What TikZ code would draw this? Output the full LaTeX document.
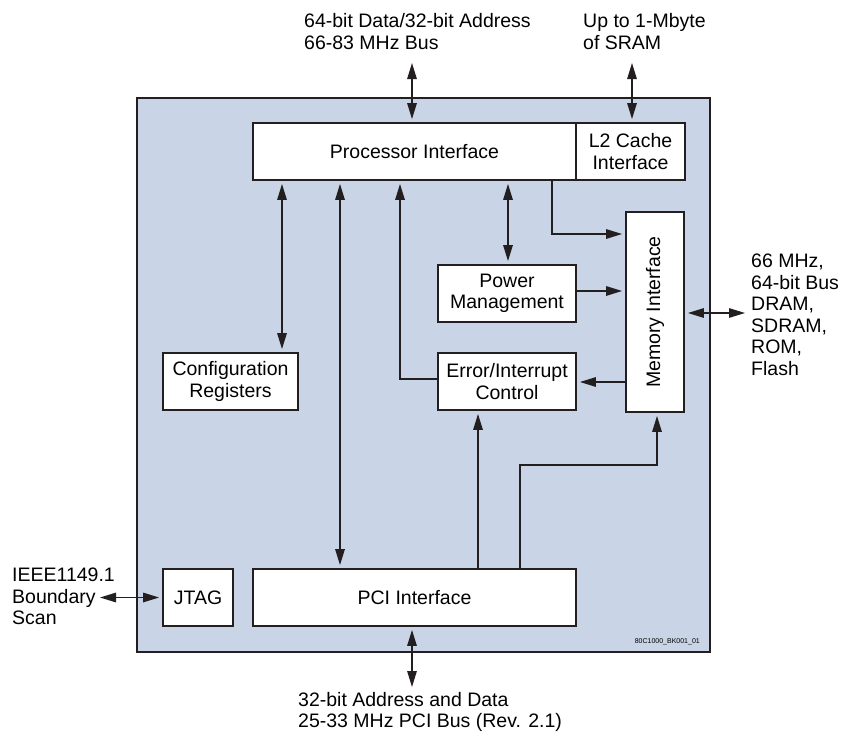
\documentclass[tikz,border=0pt]{standalone}
\usepackage{fontspec}
\setmainfont{Liberation Sans}
\usetikzlibrary{arrows.meta}
\definecolor{chipblue}{RGB}{201,213,230}
\definecolor{ink}{RGB}{35,31,32}
\begin{document}
\begin{tikzpicture}[x=1pt, y=-1pt, font=\fontsize{19.5}{21.5}\selectfont, line join=miter, >={Triangle[length=16pt,width=9.5pt]},
		blk/.style={draw=ink, line width=1.8pt, fill=white, align=center, inner sep=0pt, minimum height=57pt},
		bus/.style={draw=ink, line width=1.4pt},
		lbl/.style={align=left, inner sep=0pt, anchor=west}]
		\useasboundingbox (0,0) rectangle (857,736);
		\node[draw=ink, line width=1.8pt, fill=chipblue, inner sep=0pt, minimum width=573pt, minimum height=554pt] (chip) at (423.5,375) {};
		% blocks
		\node[blk, minimum width=323pt] (proc) at (414.5,151.5) {Processor Interface};
		\node[blk, minimum width=109pt] (cache) at (630.5,151.5) {L2 Cache\\Interface};
		\node[blk, minimum width=58pt, minimum height=200pt, label={[rotate=90]center:Memory Interface}] (mem) at (655,312) {};
		\node[blk, minimum width=138pt] (power) at (507,293.5) {Power\\Management};
		\node[blk, minimum width=138pt] (err) at (507,381.5) {Error/Interrupt\\Control};
		\node[blk, minimum width=135pt] (config) at (230.5,381.5) {Configuration\\Registers};
		\node[blk, minimum width=70pt] (jtag) at (198,597.5) {JTAG};
		\node[blk, minimum width=323pt] (pci) at (414.5,597.5) {PCI Interface};
		% outside labels
		\node[lbl] (cpulbl) at (304,31.5) {64-bit Data/32-bit Address\\66-83 MHz Bus};
		\node[lbl] (sramlbl) at (583,31.5) {Up to 1-Mbyte\\of SRAM};
		\node[lbl] (memlbl) at (751,315) {66 MHz,\\64-bit Bus\\DRAM,\\SDRAM,\\ROM,\\Flash};
		\node[lbl] (jtaglbl) at (12,596.5) {IEEE1149.1\\Boundary\\Scan};
		\node[lbl] (pcilbl) at (298,712) {32-bit Address and Data\\25-33 MHz PCI Bus (Rev. 2.1)};
		\node[inner sep=0pt, anchor=east, font=\fontsize{7}{8}\selectfont] (figid) at (700,642) {80C1000\_BK001\_01};
		\coordinate (cpuend) at (412,63);
		\coordinate (sramend) at (632,63);
		\coordinate (memend) at (745,313);
		\coordinate (pciend) at (412,687);
		\coordinate (jtagend) at (100,597.5);
		% buses
		\draw[bus,<->,shorten >=3pt] (cpuend) -- (cpuend |- proc.north);
		\draw[bus,<->,shorten >=3pt] (sramend) -- (sramend |- cache.north);
		\draw[bus,<->,shorten <=3pt] (mem.east |- memend) -- (memend);
		\draw[bus,<->,shorten <=3pt] (pci.south -| pciend) -- (pciend);
		\draw[bus,<->,shorten >=3pt] (jtagend) -- (jtag.west);
		\foreach \x/\dst in {282/config,340/pci,508/power}\draw[bus,<->,shorten <=3pt,shorten >=3pt] (proc.south -| \x,0) -- (\dst.north -| \x,0);
		\draw[bus,->,shorten >=3pt] (err.west |- 0,379) -| (proc.south -| 400,0);
		\draw[bus,->,shorten >=3pt] (proc.south -| 552,0) |- (mem.west |- 0,234);
		\draw[bus,->,shorten >=3pt] (power.east |- 0,291) -- (mem.west |- 0,291);
		\draw[bus,->,shorten >=3pt] (mem.west |- 0,382) -- (err.east |- 0,382);
		\draw[bus,->,shorten >=3pt] (pci.north -| 478,0) -- (err.south -| 478,0);
		\draw[bus,->,shorten >=3pt] (pci.north -| 520,0) -- (520,465) -| (mem.south -| 657,0);
	\end{tikzpicture}
\end{document}
